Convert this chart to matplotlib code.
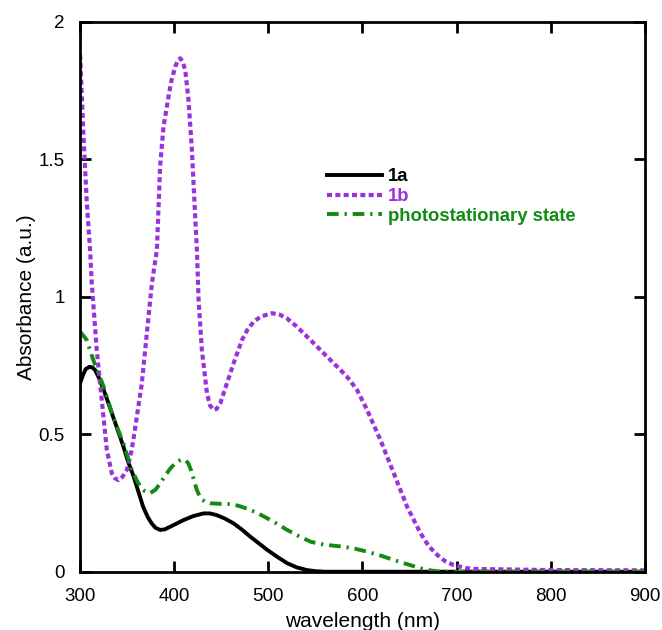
import matplotlib
matplotlib.use('Agg')
import matplotlib.pyplot as plt

plt.rcParams['font.family'] = ['Liberation Sans', 'DejaVu Sans']

# ── spectra ─────────────────────────────────────────────────────────────────
wl_1a = [300, 303, 306, 310, 313, 316, 320, 325, 330, 335, 340, 346, 351, 357,
         362, 367, 372, 376, 380, 385, 390, 396, 403, 410, 420, 431, 438, 445,
         454, 463, 472, 481, 490, 499, 510, 520, 530, 541, 550, 560, 600, 700,
         800, 900]
abs_1a = [0.685, 0.715, 0.737, 0.745, 0.743, 0.733, 0.705, 0.661, 0.614, 0.564,
          0.515, 0.455, 0.400, 0.345, 0.290, 0.236, 0.198, 0.176, 0.160, 0.152,
          0.154, 0.164, 0.176, 0.188, 0.202, 0.212, 0.212, 0.206, 0.193, 0.176,
          0.153, 0.127, 0.103, 0.079, 0.053, 0.031, 0.016, 0.006, 0.002, 0.0,
          0.0, 0.0, 0.0, 0.0]

wl_1b = [300, 303.5, 307, 310.6, 312.4, 317.7, 323, 328.4, 333.7, 337, 340.8,
         345, 349.6, 354.9, 360.3, 365.6, 370.9, 376.3, 381.6, 385, 388.6,
         393.9, 397, 401, 404, 406.4, 409, 411.7, 415.2, 418.8, 422.3, 424.1,
         425.9, 429.4, 434.8, 438, 441.8, 445, 448.9, 456, 463.1, 472, 478,
         484.4, 492, 503.9, 512, 519.9, 530, 541.1, 552, 562.4, 573, 583.7,
         594.3, 605, 619.1, 633.3, 647.5, 661.7, 670, 679.5, 688, 697, 710, 720,
         800, 900]
abs_1b = [1.88, 1.594, 1.35, 1.17, 1.049, 0.806, 0.624, 0.443, 0.358, 0.340,
          0.333, 0.345, 0.37, 0.443, 0.564, 0.685, 0.867, 1.049, 1.17, 1.473,
          1.618, 1.727, 1.785, 1.836, 1.860, 1.867, 1.855, 1.824, 1.715, 1.533,
          1.29, 1.17, 0.988, 0.806, 0.649, 0.605, 0.588, 0.592, 0.612, 0.685,
          0.758, 0.843, 0.881, 0.909, 0.928, 0.94, 0.935, 0.921, 0.892, 0.855,
          0.818, 0.782, 0.746, 0.709, 0.661, 0.588, 0.479, 0.358, 0.236, 0.14,
          0.095, 0.061, 0.038, 0.024, 0.013, 0.01, 0.006, 0.005]

wl_ps = [300, 307, 314, 325, 335, 346, 355, 360, 364, 369, 374, 380, 385, 390,
         396, 402, 408, 412, 415, 418, 421, 424, 428, 433, 438, 448, 460, 468,
         477, 488, 499, 510, 520, 532, 545, 560, 580, 593, 605, 620, 633, 648,
         662, 672, 683, 750, 900]
abs_ps = [0.873, 0.843, 0.77, 0.673, 0.564, 0.467, 0.37, 0.334, 0.309, 0.292,
          0.285, 0.298, 0.321, 0.348, 0.376, 0.398, 0.409, 0.405, 0.394, 0.368,
          0.333, 0.298, 0.267, 0.254, 0.249, 0.247, 0.246, 0.240, 0.23, 0.214,
          0.194, 0.173, 0.152, 0.130, 0.109, 0.098, 0.091, 0.083, 0.073, 0.058,
          0.043, 0.027, 0.012, 0.005, 0.0, 0.0, 0.0]

labels = ['1a', '1b', 'photostationary state']
colors = ['black', '#9b30e0', '#138a13']

fig = plt.figure(figsize=(6.62, 6.30), dpi=100)
ax = fig.add_axes([0.121, 0.0925, 0.853, 0.873])

ax.plot(wl_1a, abs_1a, color=colors[0], lw=2.8, label=labels[0])
ax.plot(wl_1b, abs_1b, color=colors[1], lw=3, ls=(0, (1.2, 0.8)), label=labels[1])
ax.plot(wl_ps, abs_ps, color=colors[2], lw=2.8, ls=(0, (3, 1.5, 0.6, 1.5)),
        label=labels[2])

ax.set_xlim(300, 900)
ax.set_ylim(0, 2)
ax.set_xticks(range(300, 901, 100))
ax.set_yticks([0, 0.5, 1, 1.5, 2])
ax.set_yticklabels(['0', '0.5', '1', '1.5', '2'])
ax.tick_params(direction='in', length=8, width=2, labelsize=13.5,
               top=True, right=True)
ax.tick_params(axis='x', pad=12)
ax.tick_params(axis='y', pad=11)
for s in ax.spines.values():
    s.set_linewidth(2)

ax.set_xlabel('wavelength (nm)', fontsize=15, labelpad=5)
ax.set_ylabel('Absorbance (a.u.)', fontsize=15, labelpad=2)

leg = ax.legend(loc='upper left', bbox_to_anchor=(0.414, 0.757), frameon=False,
                handlelength=3.0, handletextpad=0.33, labelspacing=0.15,
                borderpad=0.2, prop={'weight': 'bold', 'size': 13.3})
for t, c in zip(leg.get_texts(), colors):
    t.set_color(c)

plt.savefig('out.png', dpi=100)
